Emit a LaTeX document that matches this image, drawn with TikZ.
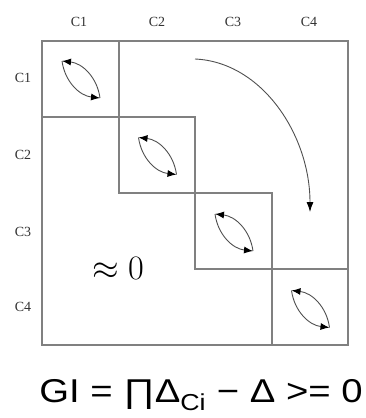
\documentclass[tikz,border=0pt]{standalone}
\usepackage{fontspec}
\setmainfont{Liberation Serif}
\newfontfamily\formfont{Liberation Sans}
\usetikzlibrary{arrows.meta}
\definecolor{gridgray}{RGB}{128,128,128}
\definecolor{arrgray}{RGB}{80,80,80}
\definecolor{labgray}{RGB}{50,50,50}
\begin{document}
\begin{tikzpicture}[x=1pt,y=-1pt,
  gridline/.style={draw=gridgray, line width=1.3pt},
  lab/.style={font=\fontsize{14}{14}\selectfont, text=labgray, inner sep=0pt},
  cyc/.style={draw=arrgray, line width=0.9pt, -{Latex[length=9pt,width=7pt,color=black]}},
  bigarr/.style={draw=arrgray, line width=0.9pt, -{Latex[length=10pt,width=7pt,color=black]}}]
\useasboundingbox (0,0) rectangle (366,418);
% outer box and diagonal blocks
\draw[gridline] (42,41) rectangle (348,345);
\draw[gridline] (42,41) rectangle (119,117);
\draw[gridline] (119,117) rectangle (195,193);
\draw[gridline] (195,193) rectangle (272,269);
\draw[gridline] (272,269) rectangle (348,345);
% column labels
\node[lab] (cc1) at (79,22) {C1};
\node[lab] (cc2) at (157,22) {C2};
\node[lab] (cc3) at (233,22) {C3};
\node[lab] (cc4) at (309,22) {C4};
% row labels
\node[lab] (rc1) at (23,78) {C1};
\node[lab] (rc2) at (23,155) {C2};
\node[lab] (rc3) at (23,232) {C3};
\node[lab] (rc4) at (23,307) {C4};
% cyclic arrows in blocks
\foreach \i/\cx/\cy in {1/80/79, 2/156.5/155.5, 3/233/232, 4/309.5/308.5}{
  \coordinate (s\i) at (\cx-18,\cy-18);
  \coordinate (e\i) at (\cx+20,\cy+19);
  \draw[cyc] (e\i) to[bend right=38] (s\i);
  \draw[cyc] (s\i) to[bend right=38] (e\i);
}
% big arrow
\coordinate (bs) at (195,59);
\coordinate (be) at (310,212);
\draw[bigarr] (bs) .. controls (262,62) and (310,135) .. (be);
% approx zero
\node[inner sep=0pt, font=\fontsize{20.74}{24}\selectfont] (az) at (118,268) {\scalebox{1.65}{$\approx 0$}};
% formula
\node[inner sep=0pt, anchor=base, xscale=1.16, font=\formfont\fontsize{33}{33}\selectfont] (gi) at (201,402)
  {GI = ∏Δ\textsubscript{Ci} − Δ >= 0};
\end{tikzpicture}
\end{document}
